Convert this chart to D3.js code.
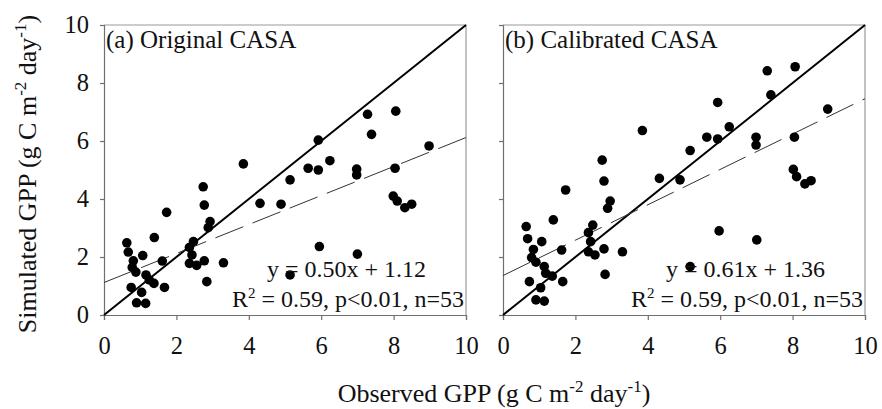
<!DOCTYPE html>
<html>
<head>
<meta charset="utf-8">
<script src="https://cdn.jsdelivr.net/npm/d3@7/dist/d3.min.js"></script>
<style>
  body { margin: 0; background: #fff; }
  svg text { font-family: "Liberation Serif", "Times New Roman", serif !important; }
</style>
</head>
<body>
<svg id="chart" width="882" height="409"></svg>
<script>
// Tick values shared by both axes
const ticks = [0, 2, 4, 6, 8, 10];

// (a) Original CASA: [observed, simulated]
const pointsA = [
  [0.63, 2.49], [0.67, 2.17], [1.39, 2.67], [1.73, 3.54], [1.07, 2.05], [0.81, 1.87],
  [0.78, 1.64], [0.88, 1.48], [1.61, 1.86], [1.16, 1.38], [1.25, 1.21], [1.38, 1.09],
  [0.75, 0.95], [1.04, 0.78], [1.67, 0.95], [0.90, 0.42], [1.15, 0.40], [2.47, 2.53],
  [2.36, 2.33], [2.43, 2.07], [2.36, 1.78], [2.56, 1.71], [2.77, 1.87], [2.84, 1.15],
  [3.30, 1.80], [2.74, 4.42], [2.77, 3.79], [2.93, 3.22], [2.88, 3.01], [3.85, 5.21],
  [4.31, 3.85], [4.89, 3.82], [5.14, 4.66], [5.14, 1.38], [5.64, 5.06], [5.92, 5.00],
  [5.92, 6.03], [6.24, 5.32], [6.98, 5.03], [6.98, 4.83], [8.04, 5.06], [7.28, 6.92],
  [8.06, 7.03], [7.39, 6.23], [8.98, 5.83], [5.95, 2.36], [7.00, 2.10], [7.99, 4.10],
  [8.10, 3.93], [8.31, 3.70], [8.50, 3.82]
];

// (b) Calibrated CASA: [observed, simulated]
const pointsB = [
  [2.74, 5.34], [2.79, 4.62], [1.73, 4.31], [2.96, 3.93], [2.89, 3.68], [4.32, 4.71],
  [4.89, 4.66], [1.39, 3.28], [0.64, 3.05], [0.68, 2.63], [1.07, 2.53], [2.48, 3.10],
  [2.36, 2.84], [2.42, 2.53], [0.84, 2.26], [0.79, 1.98], [0.91, 1.82], [1.62, 2.24],
  [2.36, 2.18], [2.54, 2.07], [2.79, 2.28], [3.30, 2.18], [1.14, 1.67], [1.18, 1.44],
  [1.36, 1.34], [0.73, 1.15], [1.04, 0.94], [1.65, 1.15], [2.82, 1.40], [0.91, 0.52],
  [1.14, 0.48], [3.85, 6.36], [7.30, 8.42], [8.07, 8.56], [7.40, 7.59], [5.93, 7.33],
  [8.97, 7.10], [6.25, 6.49], [5.63, 6.13], [5.93, 6.07], [6.99, 6.13], [6.99, 5.86],
  [8.05, 6.13], [5.17, 5.67], [8.02, 5.02], [8.11, 4.77], [8.34, 4.52], [8.51, 4.63],
  [5.97, 2.90], [7.01, 2.59], [5.17, 1.67]
];

// Regression fits
const fitA = { slope: 0.50, intercept: 1.12 };
const fitB = { slope: 0.61, intercept: 1.36 };

const panels = [
  { label: '(a) Original CASA', points: pointsA, fit: fitA,
    eq: 'y = 0.50x + 1.12', left: 104, right: 466, showY: true },
  { label: '(b) Calibrated CASA', points: pointsB, fit: fitB,
    eq: 'y = 0.61x + 1.36', left: 503, right: 865, showY: false }
];

const svg = d3.select('#chart');
const plotTop = 25, plotBottom = 315;
const axisColor = '#707070';

panels.forEach(p => {
  const x = d3.scaleLinear().domain([0, 10]).range([p.left, p.right]);
  const y = d3.scaleLinear().domain([0, 10]).range([plotBottom, plotTop]);
  const g = svg.append('g');

  // frame top / right
  g.append('path')
    .attr('d', `M${p.left},${plotTop}H${p.right}V${plotBottom}`)
    .attr('fill', 'none')
    .attr('stroke', '#9a9a9a')
    .attr('stroke-width', 1.2);

  // axes
  const xAxis = g.append('g')
    .attr('transform', `translate(0,${plotBottom})`)
    .call(d3.axisBottom(x).tickValues(ticks).tickSize(5).tickPadding(17).tickFormat(d3.format('d')));
  const yAxis = g.append('g')
    .attr('transform', `translate(${p.left},0)`)
    .call(d3.axisLeft(y).tickValues(ticks).tickSize(4).tickPadding(11)
      .tickFormat(p.showY ? d3.format('d') : ''));

  [xAxis, yAxis].forEach(a => {
    a.select('.domain').attr('stroke', axisColor).attr('stroke-width', 1.2);
    a.selectAll('line').attr('stroke', axisColor).attr('stroke-width', 1.2);
    a.selectAll('text')
      .attr('font-size', 24.5)
      .attr('fill', '#111');
  });
  xAxis.selectAll('text').attr('dy', '0.71em');

  // 1:1 line
  g.append('line')
    .attr('x1', x(0)).attr('y1', y(0))
    .attr('x2', x(10)).attr('y2', y(10))
    .attr('stroke', '#000')
    .attr('stroke-width', 2);

  // regression line
  g.append('line')
    .attr('x1', x(0)).attr('y1', y(p.fit.intercept))
    .attr('x2', x(10)).attr('y2', y(p.fit.intercept + p.fit.slope * 10))
    .attr('stroke', '#333')
    .attr('stroke-width', 1)
    .attr('stroke-dasharray', '30,10');

  // points
  g.selectAll('circle')
    .data(p.points)
    .enter()
    .append('circle')
    .attr('cx', d => x(d[0]))
    .attr('cy', d => y(d[1]))
    .attr('r', 4.8)
    .attr('fill', '#000');

  // panel label
  g.append('text')
    .attr('x', p.left + 2)
    .attr('y', 48)
    .attr('font-size', 25)
    .attr('fill', '#111')
    .text(p.label);

  // equation text
  g.append('text')
    .attr('x', p.right - 40)
    .attr('y', 277)
    .attr('text-anchor', 'end')
    .attr('font-size', 24)
    .attr('fill', '#111')
    .text(p.eq);

  const stat = g.append('text')
    .attr('x', p.right - 2)
    .attr('y', 307)
    .attr('text-anchor', 'end')
    .attr('font-size', 24)
    .attr('fill', '#111');
  stat.append('tspan').text('R');
  stat.append('tspan').attr('dy', -9).attr('font-size', 15).text('2');
  stat.append('tspan').attr('dy', 9).text(' = 0.59, p<0.01, n=53');
});

// axis titles
function addTitle(sel, main) {
  sel.append('tspan').text(main + ' (g C m');
  sel.append('tspan').attr('dy', -10).attr('font-size', 17).text('-2');
  sel.append('tspan').attr('dy', 10).text(' day');
  sel.append('tspan').attr('dy', -10).attr('font-size', 17).text('-1');
  sel.append('tspan').attr('dy', 10).text(')');
}

addTitle(svg.append('text')
  .attr('x', 494)
  .attr('y', 402)
  .attr('text-anchor', 'middle')
  .attr('font-size', 26)
  .attr('fill', '#111'), 'Observed GPP');

addTitle(svg.append('text')
  .attr('transform', 'translate(36,174) rotate(-90)')
  .attr('text-anchor', 'middle')
  .attr('font-size', 26)
  .attr('fill', '#111'), 'Simulated GPP');
</script>
</body>
</html>
